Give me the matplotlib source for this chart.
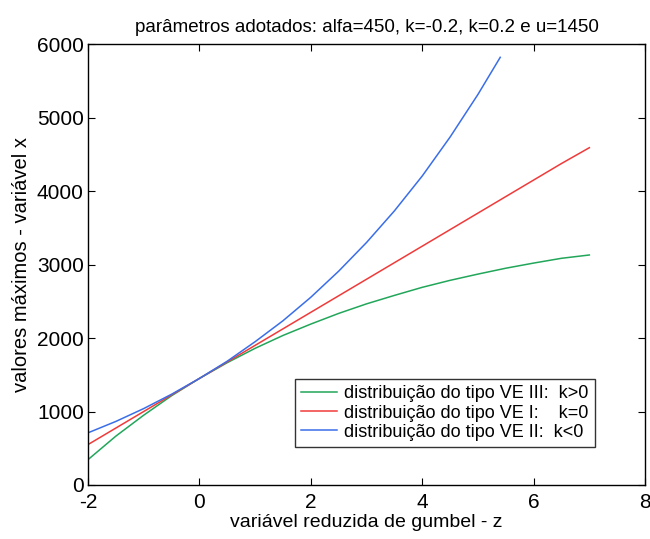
import matplotlib
matplotlib.use("Agg")
import matplotlib.pyplot as plt

plt.rcParams['font.family'] = ['Liberation Sans', 'DejaVu Sans']

# reduced Gumbel variate z
z = [-2.0, -1.5, -1.0, -0.5, 0.0, 0.5, 1.0, 1.5, 2.0, 2.5, 3.0, 3.5, 4.0,
     4.5, 5.0, 5.5, 6.0, 6.5, 7.0]
z_blue = [-2.0, -1.5, -1.0, -0.5, 0.0, 0.5, 1.0, 1.5, 2.0, 2.5, 3.0, 3.5,
          4.0, 4.5, 5.0, 5.4]

green_vals = [345, 665, 950, 1215, 1450, 1665, 1860, 2035, 2190, 2335, 2465,
              2580, 2690, 2785, 2870, 2950, 3020, 3085, 3130]
red_vals = [550, 775, 1000, 1225, 1450, 1675, 1900, 2125, 2350, 2575, 2800,
            3025, 3250, 3475, 3700, 3925, 4150, 4375, 4590]
blue_vals = [710, 865, 1040, 1235, 1450, 1685, 1950, 2235, 2555, 2910, 3300,
             3730, 4205, 4735, 5315, 5820]

labels = ['distribuição do tipo VE III:  k>0',
          'distribuição do tipo VE I:    k=0',
          'distribuição do tipo VE II:  k<0']

title = 'parâmetros adotados: alfa=450, k=-0.2, k=0.2 e u=1450'
xlabel = 'variável reduzida de gumbel - z'
ylabel = 'valores máximos - variável x'

xticks = [-2, 0, 2, 4, 6, 8]
yticks = [0, 1000, 2000, 3000, 4000, 5000, 6000]

fig = plt.figure(figsize=(6.5, 5.39), dpi=100)
ax = fig.add_axes([0.1354, 0.1002, 0.857, 0.818])

ax.plot(z, green_vals, color='#22a65a', lw=1.1, label=labels[0])
ax.plot(z, red_vals, color='#f03a3a', lw=1.1, label=labels[1])
ax.plot(z_blue, blue_vals, color='#3a6ee8', lw=1.1, label=labels[2])

ax.set_xlim(-2, 8)
ax.set_ylim(0, 6000)
ax.set_xticks(xticks)
ax.set_yticks(yticks)
ax.set_xticklabels([str(t) for t in xticks])
ax.set_yticklabels([str(t) for t in yticks])
ax.tick_params(direction='in', top=True, right=True, labelsize=15, length=5)
ax.tick_params(axis='x', pad=6)
ax.tick_params(axis='y', pad=3)
for s in ax.spines.values():
    s.set_linewidth(1.0)

ax.set_title(title, fontsize=13.5, pad=9)
ax.set_xlabel(xlabel, fontsize=14, labelpad=1)
ax.set_ylabel(ylabel, fontsize=14.5, labelpad=4)

leg = ax.legend(loc='lower right', bbox_to_anchor=(0.910, 0.086), fontsize=13,
                frameon=True, fancybox=False, edgecolor='black',
                handlelength=2.0, handletextpad=0.4, labelspacing=0.12,
                borderpad=0.35, borderaxespad=0)
leg.get_frame().set_linewidth(1.0)

fig.savefig('out.png', dpi=100)
